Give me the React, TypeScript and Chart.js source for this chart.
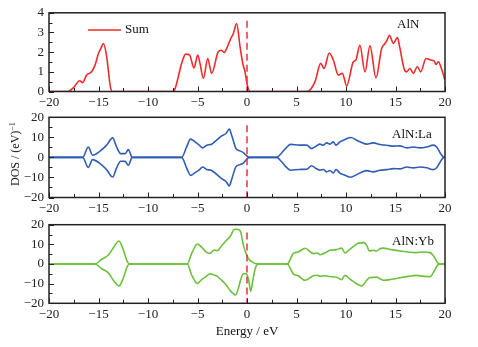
import React, { useEffect, useRef } from "react";
import { Chart, registerables } from "chart.js";

Chart.register(...registerables);

// ---------- data ----------
const energyTicks = [-20, -15, -10, -5, 0, 5, 10, 15, 20];

const sumEnergy = [-20, -18.1, -17.5, -16.9, -16.6, -16.2, -15.7, -15.35, -15.0, -14.75, -14.5, -14.17, -13.8, -13.6,
  -7.6, -7.3, -6.94, -6.6, -6.2, -5.8, -5.35, -4.98, -4.75, -4.4, -3.97, -3.57, -2.9, -2.56, -2.3, -2.05, -1.72, -1.38, -1.05, -0.7, -0.43, -0.2, 0.03, 0.3,
  6.1, 6.87, 7.44, 7.78, 8.31, 8.72, 9.22, 9.63, 10.07, 10.74, 11.0, 11.4, 11.92, 12.42, 13.03, 13.6, 13.94, 14.17, 14.38, 14.79, 15.19, 15.45, 15.86, 16.13, 16.46, 16.8, 17.2, 17.55, 18.08, 18.55, 18.9, 19.1, 19.33, 19.67, 20];
const sumDos = [0, 0, 0.21, 0.55, 0.45, 0.84, 1.0, 1.34, 1.93, 2.2, 2.44, 1.76, 0.24, 0,
  0, 0.1, 0.75, 1.43, 1.9, 1.85, 1.2, 1.85, 1.43, 0.67, 1.68, 0.92, 2.02, 2.1, 1.98, 2.19, 2.6, 2.95, 3.45, 2.27, 1.43, 1.0, 0.33, 0,
  0, 0.5, 1.43, 1.17, 1.96, 1.6, 0.84, 0.92, 0.28, 1.51, 1.6, 2.35, 1.0, 2.32, 0.7, 2.19, 2.44, 2.64, 2.86, 2.44, 2.74, 2.19, 1.17, 1.0, 1.17, 0.92, 1.26, 1.0, 1.68, 1.6, 1.55, 1.38, 1.51, 1.12, 0.58];

const laEnergy = [-20, -16.6, -16.03, -15.6, -14.85, -14.2, -13.57, -13.17, -12.76, -12.3, -11.99, -11.65, -11.5,
  -6.6, -6.1, -5.7, -5.25, -4.82, -4.48, -4.07, -3.57, -3.06, -2.56, -2.12, -1.79, -1.55, -1.11, -0.71, -0.37, -0.1, 0.23,
  3.0, 3.5, 4.0, 4.4, 5.3, 6.03, 6.53, 6.97, 7.37, 7.7, 8.05, 8.38, 8.72, 8.99, 9.39, 9.9, 10.47, 11.08, 11.58, 12.09, 12.76, 13.43, 14.1, 14.78, 15.45, 16.13, 16.8, 17.48, 18.15, 18.82, 19.16, 19.56, 19.9, 20];
const laUp = [0, 0, 5.2, 1.1, 3.1, 6.0, 9.75, 5.2, 1.9, 1.9, 3.9, 0.3, 0,
  0, 5.2, 9.1, 7.75, 6.1, 4.75, 6.1, 6.6, 8.6, 10.75, 11.9, 14.1, 11.1, 4.4, 3.25, 2.4, 1.1, 0,
  0, 2.2, 5.0, 6.5, 6.1, 6.1, 4.4, 5.6, 6.6, 6.1, 7.25, 6.6, 7.75, 6.1, 7.75, 8.9, 9.9, 8.6, 7.4, 6.6, 7.25, 6.4, 6.1, 5.6, 5.75, 4.75, 5.2, 4.75, 5.2, 6.1, 5.2, 1.9, 0, 0];
const laDown = [0, 0, -5.0, -1.1, -3.1, -6.0, -9.8, -5.2, -1.9, -2.0, -3.9, -0.3, 0,
  0, -5.2, -9.0, -7.6, -6.2, -4.8, -6.0, -6.5, -8.5, -10.6, -12.0, -14.2, -11.0, -4.6, -3.6, -2.8, -1.3, 0,
  0, -2.2, -5.0, -6.4, -6.0, -5.9, -4.2, -5.5, -6.4, -6.0, -7.2, -6.5, -7.8, -6.0, -7.8, -8.9, -9.9, -8.6, -7.4, -6.6, -7.2, -6.4, -6.1, -5.6, -5.7, -4.8, -5.2, -4.8, -5.2, -6.1, -5.2, -1.9, 0, 0];

const ybEnergy = [-20, -15.35, -14.68, -14.0, -13.43, -12.93, -12.49, -12.09, -11.85,
  -6.03, -5.59, -5.02, -4.58, -4.14, -3.74, -3.33, -2.99, -2.56, -2.12, -1.65, -1.31, -1.15, -0.88, -0.64, -0.37, -0.1, 0.18, 0.37, 0.6, 0.85, 1.17,
  4.06, 4.67, 5.18, 5.86, 6.7, 7.1, 7.37, 7.88, 8.38, 9.05, 9.56, 9.9, 10.34, 10.9, 11.24, 11.58, 11.75, 12.09, 12.36, 12.76, 13.1, 13.43, 13.77, 14.6, 15.45, 16.3, 17.1, 17.8, 18.5, 18.8, 19.33, 19.7, 20];
const ybUp = [0, 0, 2.4, 4.55, 8.8, 11.7, 7.1, 1.2, 0,
  0, 5.4, 10.2, 8.5, 6.2, 5.4, 7.1, 6.8, 9.3, 11.8, 14.4, 17.6, 17.7, 17.5, 16.4, 9.6, 5.4, 2.5, 1.6, 0.8, 0.2, 0,
  0, 5.3, 6.1, 8.0, 5.3, 5.6, 4.7, 5.7, 7.0, 7.3, 8.1, 5.6, 7.3, 9.5, 10.6, 10.6, 11.0, 9.5, 6.6, 7.0, 6.6, 7.8, 8.1, 7.3, 6.6, 6.1, 5.8, 6.1, 5.8, 4.4, 0.3, 0, 0];
const ybDown = [0, 0, -2.4, -4.5, -8.8, -11.2, -7.0, -1.2, 0,
  0, -5.6, -9.95, -7.9, -6.4, -5.0, -5.6, -6.3, -8.3, -10.6, -13.8, -15.4, -15.8, -12.5, -8.0, -5.0, -4.9, -8.3, -13.9, -8.0, -2.0, 0,
  0, -5.0, -6.0, -8.3, -6.0, -5.7, -6.2, -6.0, -6.4, -6.7, -8.0, -5.7, -7.5, -9.5, -10.5, -11.2, -10.6, -8.3, -7.0, -6.8, -6.7, -7.5, -8.3, -7.8, -7.0, -6.3, -5.8, -6.2, -6.5, -4.5, -0.3, 0, 0];

// Fermi level marker (dashed line at E = 0): [top, bottom] per panel
const fermiSum = [3.6, 0];
const fermiLa = [16, -20];
const fermiYb = [16, -20];

// ---------- styling ----------
const FONT = '"Liberation Serif", "Times New Roman", serif';
const RED = "#f22a2a";
const BLUE = "#2f5db5";
const GREEN = "#6cc03c";
const FERMI = "#e8352f";
const INK = "#222";

type PanelCfg = {
  top: number;
  height: number;
  padTop: number;
  xAxisH: number;
  yMin: number;
  yMax: number;
  yStep: number;
  yMinor: number;
  series: { e: number[]; v: number[]; color: string }[];
  fermi: number[];
  label: string;
  labelX: number;
  labelY: number;
  legend?: boolean;
  xTitleY?: number;
};

const pts = (e: number[], v: number[]) => e.map((x, i) => ({ x, y: v[i] }));
const minus = (v: number | string) => String(v).replace("-", "\u2212");

function decorPlugin(cfg: PanelCfg) {
  return {
    id: "decor",
    afterDraw(chart: any) {
      const { ctx, chartArea: a, scales } = chart;
      const x = scales.x;
      const y = scales.y;
      ctx.save();
      ctx.strokeStyle = INK;
      ctx.lineWidth = 1;
      ctx.beginPath();
      for (let v = -20; v <= 20.001; v += 2.5) {
        const px = Math.round(x.getPixelForValue(v)) + 0.5;
        const len = Math.abs(v % 5) < 1e-6 ? 5 : 3.5;
        ctx.moveTo(px, a.bottom);
        ctx.lineTo(px, a.bottom - len);
      }
      for (let v = cfg.yMin; v <= cfg.yMax + 1e-6; v += cfg.yMinor) {
        const py = Math.round(y.getPixelForValue(v)) + 0.5;
        const rel = (v - cfg.yMin) / cfg.yStep;
        const len = Math.abs(rel - Math.round(rel)) < 1e-6 ? 5 : 3.5;
        ctx.moveTo(a.left, py);
        ctx.lineTo(a.left + len, py);
      }
      ctx.stroke();
      ctx.lineWidth = 1.5;
      ctx.strokeRect(a.left, a.top, a.right - a.left, a.bottom - a.top);

      ctx.fillStyle = "#111";
      ctx.font = `13px ${FONT}`;
      ctx.textBaseline = "middle";
      ctx.textAlign = "left";
      ctx.fillText(cfg.label, cfg.labelX, cfg.labelY);

      if (cfg.legend) {
        ctx.strokeStyle = RED;
        ctx.lineWidth = 1.6;
        ctx.beginPath();
        ctx.moveTo(88, 30);
        ctx.lineTo(121, 30);
        ctx.stroke();
        ctx.fillText("Sum", 125, 30);
      }
      if (cfg.xTitleY) {
        ctx.textAlign = "center";
        ctx.fillText("Energy / eV", (a.left + a.right) / 2, cfg.xTitleY);
      }
      ctx.restore();
    },
  };
}

function Panel({ cfg }: { cfg: PanelCfg }) {
  const ref = useRef<HTMLCanvasElement | null>(null);
  useEffect(() => {
    if (!ref.current) return;
    const datasets: any[] = cfg.series.map((s) => ({
      data: pts(s.e, s.v),
      borderColor: s.color,
      borderWidth: 1.6,
      pointRadius: 0,
      fill: false,
      cubicInterpolationMode: "monotone",
      order: 2,
    }));
    datasets.push({
      data: [
        { x: 0, y: cfg.fermi[0] },
        { x: 0, y: cfg.fermi[1] },
      ],
      borderColor: FERMI,
      borderWidth: 1.5,
      borderDash: [7, 4],
      pointRadius: 0,
      fill: false,
      order: 0,
    });
    const chart = new Chart(ref.current, {
      type: "line",
      data: { datasets },
      options: {
        animation: false,
        responsive: false,
        devicePixelRatio: 1,
        layout: { padding: { top: cfg.padTop, right: 33, left: 0, bottom: 0 } },
        plugins: { legend: { display: false }, tooltip: { enabled: false } },
        scales: {
          x: {
            type: "linear",
            min: -20,
            max: 20,
            grid: { display: false, drawTicks: false },
            border: { display: false },
            afterBuildTicks: (s: any) => {
              s.ticks = energyTicks.map((v) => ({ value: v }));
            },
            afterFit: (s: any) => {
              s.height = cfg.xAxisH;
            },
            ticks: {
              padding: 3,
              maxRotation: 0,
              autoSkip: false,
              color: INK,
              font: { family: FONT, size: 13 },
              callback: (v: any) => minus(v),
            },
          },
          y: {
            type: "linear",
            min: cfg.yMin,
            max: cfg.yMax,
            grid: { display: false, drawTicks: false },
            border: { display: false },
            afterFit: (s: any) => {
              s.width = 49;
            },
            ticks: {
              stepSize: cfg.yStep,
              autoSkip: false,
              padding: 5,
              color: INK,
              font: { family: FONT, size: 13 },
              callback: (v: any) => minus(v),
            },
          },
        },
      },
      plugins: [decorPlugin(cfg)],
    } as any);
    return () => chart.destroy();
  }, [cfg]);
  return (
    <canvas
      ref={ref}
      width={478}
      height={cfg.height}
      style={{ position: "absolute", left: 0, top: cfg.top, width: 478, height: cfg.height }}
    />
  );
}

const panels: PanelCfg[] = [
  {
    top: 0, height: 110, padTop: 12.5, xAxisH: 18.5,
    yMin: 0, yMax: 4, yStep: 1, yMinor: 0.5,
    series: [{ e: sumEnergy, v: sumDos, color: RED }],
    fermi: fermiSum, label: "AlN", labelX: 397, labelY: 25, legend: true,
  },
  {
    top: 100, height: 117, padTop: 17.3, xAxisH: 19.5,
    yMin: -20, yMax: 20, yStep: 10, yMinor: 5,
    series: [
      { e: laEnergy, v: laUp, color: BLUE },
      { e: laEnergy, v: laDown, color: BLUE },
    ],
    fermi: fermiLa, label: "AlN:La", labelX: 392, labelY: 35,
  },
  {
    top: 205, height: 142, padTop: 19.7, xAxisH: 43.7,
    yMin: -20, yMax: 20, yStep: 10, yMinor: 5,
    series: [
      { e: ybEnergy, v: ybUp, color: GREEN },
      { e: ybEnergy, v: ybDown, color: GREEN },
    ],
    fermi: fermiYb, label: "AlN:Yb", labelX: 392, labelY: 37, xTitleY: 127,
  },
];

export default function App() {
  return (
    <div style={{ position: "fixed", left: 0, top: 0, width: 478, height: 347, background: "#fff", overflow: "hidden" }}>
      {panels.map((p, i) => (
        <Panel key={i} cfg={p} />
      ))}
      <div
        style={{
          position: "absolute",
          left: 14,
          top: 154,
          transform: "translate(-50%, -50%) rotate(-90deg)",
          whiteSpace: "nowrap",
          fontFamily: FONT,
          fontSize: 12,
          color: "#111",
          lineHeight: "12px",
        }}
      >
        DOS / (eV)<sup style={{ fontSize: 8, verticalAlign: "4px" }}>{"\u22121"}</sup>
      </div>
    </div>
  );
}
